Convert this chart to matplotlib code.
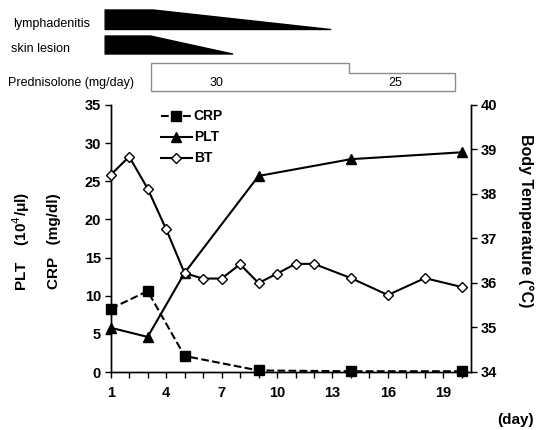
import matplotlib
matplotlib.use("Agg")
import matplotlib.pyplot as plt
from matplotlib.patches import Polygon
from matplotlib.ticker import MultipleLocator, FixedLocator

plt.rcParams["font.family"] = ["Liberation Sans", "DejaVu Sans"]

# lab values
crp_days = [1, 3, 5, 9, 14, 20]
crp = [8.3, 10.6, 2.1, 0.2, 0.1, 0.1]
plt_days = [1, 3, 5, 9, 14, 20]
plt_vals = [5.8, 4.6, 13.0, 25.7, 27.9, 28.8]
bt_days = [1, 2, 3, 4, 5, 6, 7, 8, 9, 10, 11, 12, 14, 16, 18, 20]
bt = [38.43, 38.84, 38.12, 37.21, 36.22, 36.1, 36.1, 36.42, 36.0, 36.21,
      36.43, 36.43, 36.11, 35.73, 36.11, 35.91]

# clinical course bars (in days)
lymph_start, lymph_flat, lymph_end = 0.7, 3.3, 12.9
skin_start, skin_flat, skin_end = 0.7, 3.15, 7.6
pred_start, pred_step, pred_end = 3.2, 13.9, 19.65
pred_doses = ["30", "25"]

W, H = 536, 430
fig = plt.figure(figsize=(W / 100, H / 100), dpi=100)

L, R, T, B = 110.7, 470.7, 105, 372
XMIN, XMAX = 1, 20.48
ax = fig.add_axes([L / W, 1 - B / H, (R - L) / W, (B - T) / H])
ax2 = ax.twinx()

ax.plot(crp_days, crp, "--", color="black", lw=1.5, marker="s", ms=7,
        label="CRP", zorder=3, clip_on=False)
ax.plot(plt_days, plt_vals, "-", color="black", lw=1.5, marker="^", ms=7,
        label="PLT", zorder=3, clip_on=False)
ax2.plot(bt_days, bt, "-", color="black", lw=1.5, marker="D", ms=5.5,
         mfc="white", mec="black", mew=1, label="BT", zorder=3,
         clip_on=False)

ax.set_xlim(XMIN, XMAX)
ax.set_ylim(0, 35)
ax2.set_ylim(34, 40)
ax.xaxis.set_major_locator(FixedLocator([1, 4, 7, 10, 13, 16, 19]))
ax.xaxis.set_minor_locator(MultipleLocator(1))
ax.yaxis.set_major_locator(MultipleLocator(5))
ax2.yaxis.set_major_locator(MultipleLocator(1))

for a in (ax, ax2):
    a.spines["top"].set_visible(False)
    a.tick_params(which="both", direction="out", length=4, width=1,
                  labelsize=10.5, pad=3)
    for s in a.spines.values():
        s.set_linewidth(1)
for lab in ax.get_xticklabels() + ax.get_yticklabels() + ax2.get_yticklabels():
    lab.set_fontweight("bold")
ax.tick_params(axis="x", which="major", pad=6)

h1, l1 = ax.get_legend_handles_labels()
h2, l2 = ax2.get_legend_handles_labels()
leg = ax2.legend(h1 + h2, l1 + l2, loc="upper left",
                 bbox_to_anchor=(148 / W, 1 - 97 / H),
                 bbox_transform=fig.transFigure, frameon=False,
                 handlelength=2.3, handletextpad=0.1, labelspacing=0.5,
                 prop={"weight": "bold", "size": 10})

fig.text(21 / W, 1 - 241 / H, "PLT    (10$^4$/\u03bcl)", rotation=90,
         ha="center", va="center", fontsize=11, fontweight="bold")
fig.text(54 / W, 1 - 241 / H, "CRP   (mg/dl)", rotation=90,
         ha="center", va="center", fontsize=11, fontweight="bold")
fig.text(526 / W, 1 - 221 / H, "Body Temperature (\u00b0C)", rotation=270,
         ha="center", va="center", fontsize=11.5, fontweight="bold")
fig.text(516 / W, 1 - 420 / H, "(day)", ha="center", va="center",
         fontsize=11, fontweight="bold")

# top panel: clinical course, x in days, y in pixels
top = fig.add_axes([L / W, 0, (R - L) / W, 1])
top.set_xlim(XMIN, XMAX)
top.set_ylim(H, 0)
top.axis("off")
top.add_patch(Polygon([(lymph_start, 29.5), (lymph_start, 10),
                       (lymph_flat, 10), (lymph_end, 29.5)],
                      closed=True, fc="black", ec="black", lw=1,
                      joinstyle="round", clip_on=False))
top.add_patch(Polygon([(skin_start, 54), (skin_start, 36),
                       (skin_flat, 36), (skin_end, 54)],
                      closed=True, fc="black", ec="black", lw=1,
                      joinstyle="round", clip_on=False))
top.add_patch(Polygon([(pred_start, 91), (pred_start, 63.3),
                       (pred_step, 63.3), (pred_step, 73.3),
                       (pred_end, 73.3), (pred_end, 91)],
                      closed=True, fc="none", ec="#8c8c8c", lw=1,
                      clip_on=False))
top.text((pred_start + pred_step) / 2 - 1.8, 83, pred_doses[0],
         ha="center", va="center", fontsize=9)
top.text((pred_step + pred_end) / 2 - 0.4, 83, pred_doses[1],
         ha="center", va="center", fontsize=9)

fig.text(12.7 / W, 1 - 23.5 / H, "lymphadenitis", ha="left", va="center",
         fontsize=9)
fig.text(10.7 / W, 1 - 49 / H, "skin lesion", ha="left", va="center",
         fontsize=9)
fig.text(8.3 / W, 1 - 83 / H, "Prednisolone (mg/day)", ha="left",
         va="center", fontsize=9)

fig.savefig("out.png", dpi=100)
